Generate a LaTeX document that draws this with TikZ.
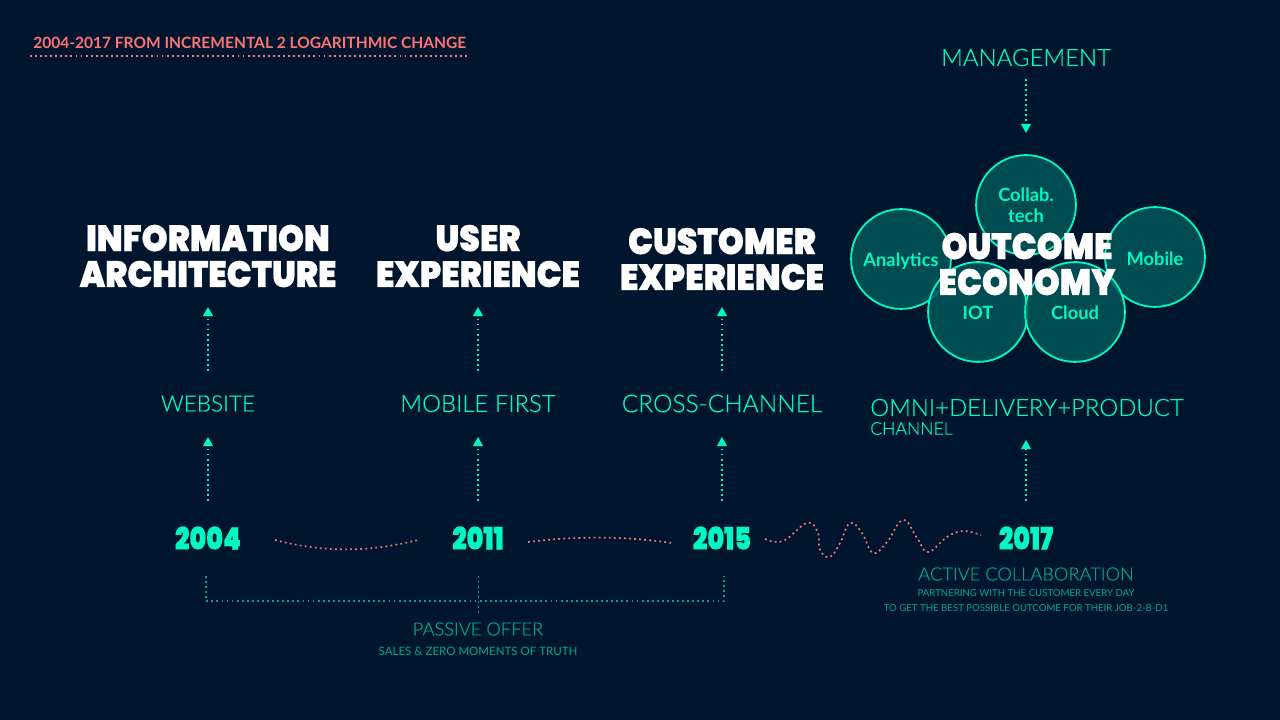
\documentclass[tikz,border=0pt]{standalone}
\usepackage{fontspec}
\usepackage{tikz}
\usetikzlibrary{arrows.meta}
\usetikzlibrary{positioning}
\setmainfont{Lato}
\newfontfamily\thinfont{Lato Light}[FakeBold=0.25]
\newfontfamily\boldfont{Lato Bold}
\newfontfamily\heavyfont{Poppins Black}[FakeStretch=0.905,FakeBold=0.5]
\newfontfamily\yearfont{Poppins Black}[FakeStretch=0.82,FakeBold=0.5]
\definecolor{nightbg}{HTML}{00162F}
\definecolor{mint}{HTML}{00F8C2}
\definecolor{dimmint}{HTML}{00A68C}
\definecolor{coral}{HTML}{FF7272}
\definecolor{bubblefill}{HTML}{00565A}
\tikzset{
 headline/.style={text=white,font=\heavyfont\fontsize{26}{25.5}\selectfont,align=center,inner sep=0pt},
 stage/.style={text=mint,font=\thinfont\fontsize{17}{17}\selectfont,inner sep=0pt},
 yearmark/.style={text=mint,font=\yearfont\fontsize{22}{22}\selectfont,inner sep=0pt},
 dimlabel/.style={text=dimmint,font=\thinfont\fontsize{13}{13}\selectfont,inner sep=0pt},
 dimnote/.style={text=dimmint,font=\rmfamily\fontsize{6.85}{10.6}\selectfont,align=center,inner sep=0pt},
 bubble/.style={circle,minimum size=71pt,inner sep=0pt,draw=mint,line width=1.3pt,fill=bubblefill,fill opacity=.85,text opacity=1,text=mint,align=center,font=\boldfont\fontsize{13}{15}\selectfont},
 bubbletext/.style={text=mint,font=\boldfont\fontsize{13}{15}\selectfont,inner sep=0pt},
 stemline/.style={mint,line width=1.2pt,dash pattern=on 1.3pt off 2.3pt,-{Triangle[length=6.5pt,width=7pt]}},
 coralline/.style={coral,line width=1.2pt,dash pattern=on 1.3pt off 2.3pt},
 bracketline/.style={dimmint,line width=1.2pt,dash pattern=on 1.3pt off 2.3pt},
}
\begin{document}
\begin{tikzpicture}[x=0.025cm,y=-0.025cm]
 \fill[nightbg] (0,0) rectangle (1280,720);
 \useasboundingbox (0,0) rectangle (1280,720);

 \node[anchor=west,text=coral,font=\boldfont\fontsize{11.05}{11}\selectfont,inner sep=0pt] (headtitle) at (33,43) {2004-2017 FROM INCREMENTAL 2 LOGARITHMIC CHANGE};
 \coordinate (ruleA) at (30,56);
 \coordinate (ruleB) at (470,56);
 \draw[coralline] (ruleA) -- (ruleB);

 \node[bubble] (collab) at (1026,205) {Collab.\\tech};
 \node[bubble] (analytics) at (901,259) {};
 \node[bubble] (mobile) at (1155,257) {};
 \node[bubble] (iot) at (978,312) {};
 \node[bubble] (cloud) at (1075,312) {};
 \node[bubbletext] (analyticslabel) at (901,261) {Analytics};
 \node[bubbletext] (mobilelabel) at (1155,259) {Mobile};
 \node[bubbletext] (iotlabel) at (978,313) {IOT};
 \node[bubbletext] (cloudlabel) at (1075,313) {Cloud};

 \node[headline] (infoarch) at (208,256) {INFORMATION\\ARCHITECTURE};
 \node[headline] (userexp) at (478,256) {USER\\EXPERIENCE};
 \node[headline] (custexp) at (722,259) {CUSTOMER\\EXPERIENCE};
 \node[headline] (outcome) at (1027,264) {OUTCOME\\ECONOMY};

 \node[stage] (mgmt) at (1026,57.5) {MANAGEMENT};
 \node[stage,font=\thinfont\fontsize{16}{16}\selectfont] (website) at (208,403.5) {WEBSITE};
 \node[stage] (mobfirst) at (478,403.5) {MOBILE FIRST};
 \node[stage,font=\thinfont\fontsize{17.4}{17}\selectfont] (crosschan) at (722,403.5) {CROSS-CHANNEL};
 \node[stage] (omni) at (1027,407.5) {OMNI+DELIVERY+PRODUCT};
 \node[anchor=west,text=mint,font=\thinfont\fontsize{12.5}{12.5}\selectfont,inner sep=0pt] (channel) at (omni.west |- 0,428.5) {CHANNEL};

 \node[yearmark] (y2004) at (208,538) {2004};
 \node[yearmark] (y2011) at (478,538) {2011};
 \node[yearmark] (y2015) at (722,538) {2015};
 \node[yearmark] (y2017) at (1026,538) {2017};

 \draw[stemline] (y2004.center |- 0,501) -- (website.center |- 0,437);
 \draw[stemline] (y2011.center |- 0,501) -- (mobfirst.center |- 0,437);
 \draw[stemline] (y2015.center |- 0,501) -- (crosschan.center |- 0,437);
 \draw[stemline] (y2017.center |- 0,501) -- (y2017.center |- 0,440);
 \draw[stemline] (website.center |- 0,371) -- (infoarch.center |- 0,307);
 \draw[stemline] (mobfirst.center |- 0,371) -- (userexp.center |- 0,307);
 \draw[stemline] (crosschan.center |- 0,371) -- (custexp.center |- 0,307);
 \draw[stemline] (mgmt.center |- 0,79) -- (mgmt.center |- 0,133);

 \draw[coralline] (275,540) .. controls (325,553) and (370,552) .. (418,540);
 \draw[coralline] (528,542) .. controls (575,536) and (625,536) .. (672,543);
 \draw[coralline] plot[smooth,tension=.7] coordinates {(765,539) (783,541) (807,523) (818,533) (820,550) (830,557) (840,543) (850,523) (862,533) (873,553) (887,542) (903,520) (917,538) (928,552) (947,537) (963,531) (981,535)};

 \coordinate (brackA) at (206,576);
 \coordinate (brackB) at (206,601);
 \coordinate (brackC) at (724,601);
 \coordinate (brackD) at (724,576);
 \coordinate (tickA) at (478.5,576);
 \coordinate (tickB) at (478.5,613);
 \draw[bracketline] (brackA) -- (brackB) -- (brackC) -- (brackD);
 \draw[bracketline] (tickA) -- (tickB);

 \node[dimlabel] (passive) at (478,629) {PASSIVE OFFER};
 \node[dimnote] (salesnote) at (478,651) {\fontsize{8.2}{10}\selectfont SALES \& ZERO MOMENTS OF TRUTH};
 \node[dimlabel] (active) at (1026,574) {ACTIVE COLLABORATION};
 \node[dimnote] (partnernote) at (1026,601) {PARTNERING WITH THE CUSTOMER EVERY DAY\\TO GET THE BEST POSSIBLE OUTCOME FOR THEIR JOB-2-B-D1};
\end{tikzpicture}
\end{document}
